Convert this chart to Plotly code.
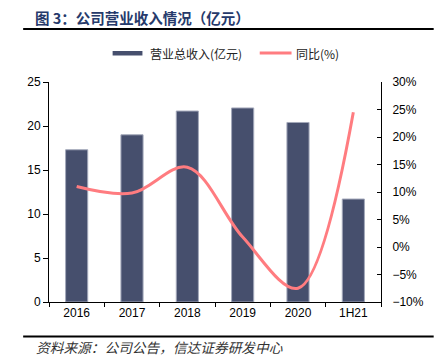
import plotly.graph_objects as go

categories = ["2016", "2017", "2018", "2019", "2020", "1H21"]
revenue = [17.3, 19.0, 21.7, 22.05, 20.4, 11.7]
yoy = [11.0, 9.8, 14.5, 1.8, -7.5, 24.5]

W, H = 436, 363
L, R, T, B = 49, 383, 82, 302  # plot area in pixels

def px(x):
    return (x - L) / (R - L)

def py(y):
    return (B - y) / (B - T)

BAR = "#464f6d"
LINE = "#ff7c80"
CJK = "Noto Sans CJK SC"
LAT = "Liberation Sans, Arial, sans-serif"

fig = go.Figure()
fig.add_trace(go.Bar(
    x=categories, y=revenue, name="营业总收入(亿元)",
    marker=dict(color=BAR, line=dict(color="#a3a8ba", width=1)),
    width=0.4, yaxis="y",
))
fig.add_trace(go.Scatter(
    x=categories, y=yoy, name="同比(%)", mode="lines",
    line=dict(color=LINE, width=3, shape="spline", smoothing=1.0),
    yaxis="y2",
))

shapes = [
    dict(type="line", xref="paper", yref="paper", x0=px(23), x1=px(436), y0=py(29), y1=py(29),
         line=dict(color="#000", width=2)),
    dict(type="line", xref="paper", yref="paper", x0=px(23), x1=px(436), y0=py(336.5), y1=py(336.5),
         line=dict(color="#000", width=2)),
    dict(type="rect", xref="paper", yref="paper", x0=px(113), x1=px(143), y0=py(55.5), y1=py(51),
         fillcolor=BAR, line=dict(width=0)),
    dict(type="line", xref="paper", yref="paper", x0=px(261), x1=px(293), y0=py(53), y1=py(53),
         line=dict(color=LINE, width=3)),
]

annotations = [
    dict(text="<b>图 3：公司营业收入情况（亿元）</b>", xref="paper", yref="paper",
         x=px(33), y=py(17), xanchor="left", yanchor="middle", showarrow=False,
         font=dict(family=CJK, size=14.5, color="#263a6b")),
    dict(text="营业总收入(亿元)", xref="paper", yref="paper",
         x=px(149), y=py(53), xanchor="left", yanchor="middle", showarrow=False,
         font=dict(family=CJK, size=12, color="#222")),
    dict(text="同比(%)", xref="paper", yref="paper",
         x=px(295), y=py(53), xanchor="left", yanchor="middle", showarrow=False,
         font=dict(family=CJK, size=12, color="#222")),
    dict(text="资料来源：公司公告，信达证券研发中心", xref="paper", yref="paper",
         x=px(34), y=py(347), xanchor="left", yanchor="middle", showarrow=False,
         font=dict(family=CJK, size=13.7, color="#333", style="italic")),
]

fig.update_layout(
    width=W, height=H,
    margin=dict(l=L, r=W - R, t=T, b=H - B, pad=0),
    paper_bgcolor="white", plot_bgcolor="white",
    showlegend=False,
    bargap=0.6,
    font=dict(family=LAT, size=12, color="#000"),
    xaxis=dict(
        type="category", range=[-0.5, 5.5], showline=True, linecolor="#000", linewidth=1,
        ticks="outside", ticklen=4, tickcolor="#000", tickson="boundaries",
        showgrid=False, tickfont=dict(family=LAT, size=12, color="#000"),
    ),
    yaxis=dict(
        range=[0, 25], dtick=5, showline=True, linecolor="#000", linewidth=1,
        ticks="outside", ticklen=5, tickcolor="#000", showgrid=False, zeroline=False,
        tickfont=dict(family=LAT, size=12, color="#000"),
    ),
    yaxis2=dict(
        range=[-10, 30], dtick=5, overlaying="y", side="right", ticksuffix="%",
        showline=True, linecolor="#000", linewidth=1,
        ticks="inside", ticklen=4, tickcolor="#000", showgrid=False, zeroline=False,
        ticklabelstandoff=8,
        tickfont=dict(family=LAT, size=12, color="#000"),
    ),
    shapes=shapes,
    annotations=annotations,
)

fig.write_html(
    "out.html",
    config={"displayModeBar": False},
    post_script="document.body.style.margin='0';document.body.style.overflow='hidden';",
)
